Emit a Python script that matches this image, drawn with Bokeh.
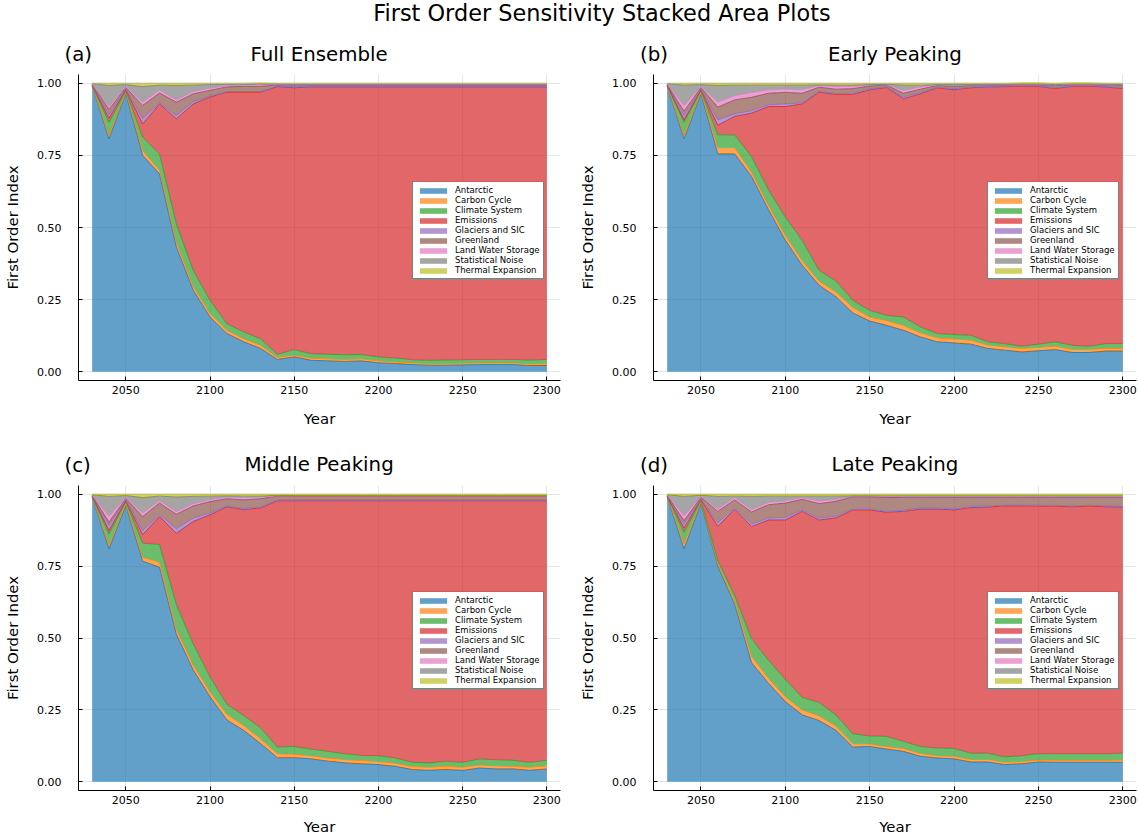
from bokeh.plotting import figure
from bokeh.models import Range1d, FixedTicker, PrintfTickFormatter, ColumnDataSource
from bokeh.layouts import column, row
from bokeh.embed import file_html
from bokeh.resources import INLINE
from bokeh.core.properties import value

main_title = "First Order Sensitivity Stacked Area Plots"
panel_titles = ["Full Ensemble", "Early Peaking", "Middle Peaking", "Late Peaking"]
panel_tags = ["(a)", "(b)", "(c)", "(d)"]
x_label = "Year"
y_label = "First Order Index"

years = [2030, 2040, 2050, 2060, 2070, 2080, 2090, 2100, 2110, 2120, 2130, 2140, 2150, 2160,
         2170, 2180, 2190, 2200, 2210, 2220, 2230, 2240, 2250, 2260, 2270, 2280, 2290, 2300]
x_ticks = [2050, 2100, 2150, 2200, 2250, 2300]
y_ticks = [0.0, 0.25, 0.5, 0.75, 1.0]

components = ["Antarctic", "Carbon Cycle", "Climate System", "Emissions", "Glaciers and SIC",
              "Greenland", "Land Water Storage", "Statistical Noise", "Thermal Expansion"]
keys = ["antarctic", "carbon", "climate", "emissions", "glaciers", "greenland", "landwater", "noise", "thermal"]
colors = ["#1f77b4", "#ff7f0e", "#2ca02c", "#d62728", "#9467bd", "#8c564b", "#e377c2", "#7f7f7f", "#bcbd22"]

# (a) Full Ensemble
a_antarctic = [0.990, 0.807, 0.963, 0.750, 0.686, 0.433, 0.283, 0.190, 0.133, 0.104, 0.081, 0.043, 0.052, 0.040,
               0.038, 0.036, 0.038, 0.031, 0.029, 0.025, 0.023, 0.023, 0.024, 0.025, 0.025, 0.025, 0.022, 0.022]
a_carbon = [0.001, 0.012, 0.005, 0.017, 0.012, 0.017, 0.013, 0.012, 0.011, 0.011, 0.011, 0.007, 0.006, 0.007,
            0.007, 0.007, 0.007, 0.007, 0.006, 0.006, 0.006, 0.006, 0.006, 0.006, 0.006, 0.006, 0.006, 0.006]
a_climate = [0.001, 0.045, 0.006, 0.046, 0.057, 0.063, 0.056, 0.046, 0.023, 0.023, 0.023, 0.011, 0.019, 0.016,
             0.016, 0.016, 0.015, 0.014, 0.013, 0.011, 0.011, 0.012, 0.012, 0.012, 0.012, 0.012, 0.013, 0.015]
a_emissions = [0.001, 0.015, 0.003, 0.046, 0.173, 0.364, 0.576, 0.704, 0.802, 0.831, 0.854, 0.927, 0.907, 0.924,
               0.926, 0.928, 0.927, 0.935, 0.939, 0.945, 0.947, 0.946, 0.945, 0.944, 0.944, 0.944, 0.946, 0.944]
a_glaciers = [0.001, 0.012, 0.003, 0.018, 0.004, 0.011, 0.008, 0.003, 0.002, 0.002, 0.002, 0.002, 0.003, 0.003,
              0.003, 0.003, 0.003, 0.003, 0.003, 0.003, 0.003, 0.003, 0.003, 0.003, 0.003, 0.003, 0.003, 0.003]
a_greenland = [0.001, 0.018, 0.005, 0.046, 0.034, 0.046, 0.027, 0.020, 0.016, 0.018, 0.018, 0.004, 0.006, 0.004,
               0.004, 0.004, 0.004, 0.004, 0.004, 0.004, 0.004, 0.004, 0.004, 0.004, 0.004, 0.004, 0.004, 0.004]
a_landwater = [0.001, 0.010, 0.004, 0.011, 0.010, 0.008, 0.008, 0.008, 0.004, 0.005, 0.006, 0.002, 0.002, 0.001,
               0.001, 0.001, 0.001, 0.001, 0.001, 0.001, 0.001, 0.001, 0.001, 0.001, 0.001, 0.001, 0.001, 0.001]
a_noise = [0.002, 0.073, 0.006, 0.054, 0.017, 0.050, 0.022, 0.012, 0.005, 0.002, 0.002, 0.001, 0.001, 0.001,
           0.001, 0.001, 0.001, 0.001, 0.001, 0.001, 0.001, 0.001, 0.001, 0.001, 0.001, 0.001, 0.001, 0.001]
a_thermal = [0.002, 0.008, 0.005, 0.012, 0.007, 0.008, 0.007, 0.005, 0.004, 0.004, 0.004, 0.003, 0.004, 0.004,
             0.004, 0.004, 0.004, 0.004, 0.004, 0.004, 0.004, 0.004, 0.004, 0.004, 0.004, 0.004, 0.004, 0.004]

# (b) Early Peaking
b_antarctic = [0.990, 0.807, 0.963, 0.755, 0.755, 0.677, 0.562, 0.456, 0.369, 0.300, 0.260, 0.204, 0.176, 0.161,
               0.144, 0.121, 0.104, 0.100, 0.096, 0.081, 0.075, 0.069, 0.073, 0.077, 0.067, 0.067, 0.072, 0.072]
b_carbon = [0.001, 0.012, 0.005, 0.021, 0.021, 0.015, 0.015, 0.017, 0.017, 0.015, 0.017, 0.019, 0.014, 0.017,
            0.017, 0.014, 0.014, 0.014, 0.014, 0.012, 0.012, 0.012, 0.012, 0.012, 0.011, 0.011, 0.009, 0.009]
b_climate = [0.001, 0.046, 0.006, 0.045, 0.045, 0.054, 0.054, 0.063, 0.070, 0.037, 0.038, 0.025, 0.023, 0.018,
             0.029, 0.021, 0.015, 0.015, 0.017, 0.011, 0.011, 0.008, 0.011, 0.015, 0.014, 0.011, 0.017, 0.017]
b_emissions = [0.001, 0.008, 0.003, 0.033, 0.064, 0.150, 0.288, 0.383, 0.472, 0.617, 0.646, 0.713, 0.764, 0.789,
               0.756, 0.807, 0.851, 0.848, 0.857, 0.883, 0.890, 0.900, 0.893, 0.877, 0.897, 0.900, 0.889, 0.883]
b_glaciers = [0.001, 0.015, 0.003, 0.019, 0.009, 0.009, 0.006, 0.009, 0.004, 0.003, 0.003, 0.004, 0.003, 0.002,
              0.006, 0.004, 0.002, 0.004, 0.002, 0.002, 0.002, 0.002, 0.002, 0.003, 0.002, 0.002, 0.002, 0.003]
b_greenland = [0.001, 0.015, 0.005, 0.044, 0.048, 0.046, 0.040, 0.040, 0.033, 0.014, 0.015, 0.016, 0.010, 0.006,
               0.013, 0.012, 0.006, 0.008, 0.006, 0.005, 0.004, 0.004, 0.004, 0.007, 0.004, 0.004, 0.005, 0.008]
b_landwater = [0.001, 0.020, 0.004, 0.017, 0.015, 0.017, 0.012, 0.012, 0.012, 0.006, 0.009, 0.008, 0.004, 0.002,
               0.010, 0.008, 0.002, 0.004, 0.002, 0.001, 0.001, 0.001, 0.001, 0.003, 0.001, 0.001, 0.001, 0.002]
b_noise = [0.002, 0.070, 0.006, 0.058, 0.036, 0.025, 0.016, 0.013, 0.016, 0.002, 0.005, 0.004, 0.001, 0.001,
           0.018, 0.006, 0.001, 0.002, 0.001, 0.001, 0.001, 0.001, 0.001, 0.001, 0.001, 0.001, 0.001, 0.001]
b_thermal = [0.002, 0.007, 0.005, 0.008, 0.007, 0.007, 0.007, 0.007, 0.007, 0.006, 0.007, 0.007, 0.005, 0.004,
             0.007, 0.007, 0.005, 0.005, 0.005, 0.004, 0.004, 0.004, 0.004, 0.005, 0.004, 0.004, 0.004, 0.005]

# (c) Middle Peaking
c_antarctic = [0.990, 0.810, 0.960, 0.767, 0.746, 0.513, 0.389, 0.296, 0.215, 0.179, 0.133, 0.084, 0.084, 0.080,
               0.072, 0.066, 0.063, 0.060, 0.054, 0.043, 0.040, 0.043, 0.040, 0.048, 0.045, 0.045, 0.040, 0.045]
c_carbon = [0.001, 0.012, 0.006, 0.014, 0.018, 0.017, 0.017, 0.017, 0.020, 0.017, 0.017, 0.014, 0.012, 0.011,
            0.011, 0.012, 0.011, 0.011, 0.011, 0.010, 0.011, 0.011, 0.011, 0.011, 0.011, 0.009, 0.011, 0.011]
c_climate = [0.001, 0.040, 0.008, 0.049, 0.061, 0.086, 0.074, 0.052, 0.035, 0.035, 0.038, 0.023, 0.027, 0.023,
             0.023, 0.020, 0.018, 0.020, 0.018, 0.015, 0.015, 0.018, 0.017, 0.021, 0.021, 0.021, 0.017, 0.019]
c_emissions = [0.001, 0.012, 0.003, 0.029, 0.097, 0.248, 0.425, 0.563, 0.686, 0.715, 0.764, 0.856, 0.854, 0.863,
               0.871, 0.879, 0.885, 0.886, 0.894, 0.909, 0.911, 0.905, 0.909, 0.897, 0.900, 0.902, 0.909, 0.902]
c_glaciers = [0.001, 0.017, 0.003, 0.014, 0.006, 0.016, 0.012, 0.006, 0.003, 0.004, 0.004, 0.003, 0.003, 0.003,
              0.003, 0.003, 0.003, 0.003, 0.003, 0.003, 0.003, 0.003, 0.003, 0.003, 0.003, 0.003, 0.003, 0.003]
c_greenland = [0.001, 0.012, 0.005, 0.049, 0.041, 0.050, 0.042, 0.040, 0.025, 0.030, 0.028, 0.013, 0.012, 0.012,
               0.012, 0.012, 0.012, 0.012, 0.012, 0.012, 0.012, 0.012, 0.012, 0.012, 0.012, 0.012, 0.012, 0.012]
c_landwater = [0.001, 0.020, 0.004, 0.012, 0.008, 0.009, 0.008, 0.007, 0.006, 0.008, 0.006, 0.002, 0.002, 0.002,
               0.002, 0.002, 0.002, 0.002, 0.002, 0.002, 0.002, 0.002, 0.002, 0.002, 0.002, 0.002, 0.002, 0.002]
c_noise = [0.002, 0.069, 0.006, 0.054, 0.016, 0.051, 0.025, 0.012, 0.004, 0.005, 0.003, 0.001, 0.001, 0.001,
           0.001, 0.001, 0.001, 0.001, 0.001, 0.001, 0.001, 0.001, 0.001, 0.001, 0.001, 0.001, 0.001, 0.001]
c_thermal = [0.002, 0.008, 0.005, 0.012, 0.007, 0.010, 0.008, 0.007, 0.006, 0.007, 0.007, 0.004, 0.005, 0.005,
             0.005, 0.005, 0.005, 0.005, 0.005, 0.005, 0.005, 0.005, 0.005, 0.005, 0.005, 0.005, 0.005, 0.005]

# (d) Late Peaking
d_antarctic = [0.990, 0.810, 0.968, 0.750, 0.617, 0.414, 0.343, 0.279, 0.233, 0.213, 0.179, 0.121, 0.123, 0.114,
               0.106, 0.089, 0.083, 0.080, 0.069, 0.069, 0.060, 0.063, 0.069, 0.068, 0.068, 0.068, 0.068, 0.068]
d_carbon = [0.001, 0.017, 0.004, 0.008, 0.013, 0.023, 0.017, 0.017, 0.017, 0.017, 0.015, 0.012, 0.009, 0.009,
            0.010, 0.010, 0.008, 0.009, 0.009, 0.009, 0.008, 0.008, 0.007, 0.007, 0.007, 0.007, 0.007, 0.008]
d_climate = [0.001, 0.040, 0.006, 0.012, 0.018, 0.061, 0.063, 0.060, 0.044, 0.046, 0.039, 0.034, 0.028, 0.035,
             0.025, 0.024, 0.027, 0.027, 0.022, 0.022, 0.019, 0.020, 0.022, 0.023, 0.023, 0.023, 0.023, 0.024]
d_emissions = [0.001, 0.015, 0.003, 0.118, 0.300, 0.389, 0.487, 0.554, 0.646, 0.634, 0.684, 0.778, 0.785, 0.779,
               0.799, 0.825, 0.830, 0.829, 0.853, 0.855, 0.872, 0.868, 0.860, 0.860, 0.858, 0.860, 0.858, 0.855]
d_glaciers = [0.001, 0.014, 0.003, 0.012, 0.006, 0.009, 0.007, 0.009, 0.005, 0.007, 0.006, 0.004, 0.004, 0.004,
              0.004, 0.004, 0.004, 0.004, 0.004, 0.004, 0.003, 0.003, 0.003, 0.003, 0.003, 0.003, 0.003, 0.003]
d_greenland = [0.001, 0.012, 0.005, 0.040, 0.026, 0.042, 0.046, 0.050, 0.037, 0.050, 0.052, 0.042, 0.042, 0.047,
               0.045, 0.037, 0.037, 0.040, 0.032, 0.030, 0.027, 0.027, 0.028, 0.028, 0.030, 0.028, 0.030, 0.031]
d_landwater = [0.001, 0.017, 0.003, 0.008, 0.008, 0.008, 0.008, 0.008, 0.006, 0.009, 0.007, 0.002, 0.002, 0.004,
               0.004, 0.004, 0.004, 0.004, 0.004, 0.004, 0.004, 0.004, 0.004, 0.004, 0.004, 0.004, 0.004, 0.004]
d_noise = [0.002, 0.067, 0.004, 0.044, 0.005, 0.046, 0.022, 0.016, 0.005, 0.017, 0.011, 0.001, 0.001, 0.002,
           0.001, 0.001, 0.001, 0.001, 0.001, 0.001, 0.001, 0.001, 0.001, 0.001, 0.001, 0.001, 0.001, 0.001]
d_thermal = [0.002, 0.008, 0.004, 0.008, 0.007, 0.008, 0.007, 0.007, 0.007, 0.007, 0.007, 0.006, 0.006, 0.006,
             0.006, 0.006, 0.006, 0.006, 0.006, 0.006, 0.006, 0.006, 0.006, 0.006, 0.006, 0.006, 0.006, 0.006]

panel_data = [
    [a_antarctic, a_carbon, a_climate, a_emissions, a_glaciers, a_greenland, a_landwater, a_noise, a_thermal],
    [b_antarctic, b_carbon, b_climate, b_emissions, b_glaciers, b_greenland, b_landwater, b_noise, b_thermal],
    [c_antarctic, c_carbon, c_climate, c_emissions, c_glaciers, c_greenland, c_landwater, c_noise, c_thermal],
    [d_antarctic, d_carbon, d_climate, d_emissions, d_glaciers, d_greenland, d_landwater, d_noise, d_thermal],
]

FONT = "DejaVu Sans"
CELL_W = 569

# per panel: (height, min_border_left, right, top, bottom, x-axis label standoff)
geom = [
    (362, 78, 9, 4, 52, 13),
    (362, 84, 2, 4, 52, 13),
    (360, 78, 9, 7, 47, 11),
    (360, 84, 2, 7, 47, 11),
]


def make_panel(i):
    h, bl, br, bt, bb, xls = geom[i]
    data = {"year": years}
    for k, vals in zip(keys, panel_data[i]):
        data[k] = vals
    src = ColumnDataSource(data)

    p = figure(width=CELL_W, height=h, output_backend="svg", toolbar_location=None,
               x_range=Range1d(2021.9, 2308.1), y_range=Range1d(-0.03, 1.03),
               min_border_left=bl, min_border_right=br, min_border_top=bt, min_border_bottom=bb)
    p.outline_line_color = None
    p.background_fill_color = "white"

    p.varea_stack(keys, x="year", color=colors, fill_alpha=0.7, legend_label=components, source=src)
    p.vline_stack(keys, x="year", color=colors, line_width=1, line_alpha=0.85, source=src)

    p.xaxis.ticker = FixedTicker(ticks=x_ticks)
    p.yaxis.ticker = FixedTicker(ticks=y_ticks)
    p.yaxis.formatter = PrintfTickFormatter(format="%.2f")
    p.xaxis.axis_label = x_label
    p.yaxis.axis_label = y_label
    for ax in (p.xaxis, p.yaxis):
        ax.axis_line_color = "black"
        ax.axis_line_width = 1
        ax.major_tick_line_color = "black"
        ax.major_tick_in = 4
        ax.major_tick_out = 0
        ax.minor_tick_line_color = None
        ax.major_label_text_font = FONT
        ax.major_label_text_font_size = "11px"
        ax.major_label_text_color = "black"
        ax.axis_label_text_font = FONT
        ax.axis_label_text_font_size = "14.9px"
        ax.axis_label_text_font_style = "normal"
        ax.axis_label_text_color = "black"
    p.yaxis.major_label_standoff = 17
    p.yaxis.axis_label_standoff = 12
    p.xaxis.major_label_standoff = 5
    p.xaxis.axis_label_standoff = xls

    p.xgrid.ticker = FixedTicker(ticks=x_ticks)
    p.ygrid.ticker = FixedTicker(ticks=y_ticks)
    p.grid.grid_line_color = "black"
    p.grid.grid_line_alpha = 0.1
    p.grid.grid_line_width = 1

    lg = p.legend[0]
    lg.location = (334, 101)
    lg.label_text_font = FONT
    lg.label_text_font_size = "8.5px"
    lg.label_text_color = "black"
    lg.glyph_width = 34
    lg.glyph_height = 7
    lg.label_height = 7
    lg.label_standoff = 5
    lg.spacing = -1
    lg.padding = 3
    lg.border_line_color = "black"
    lg.border_line_width = 1
    lg.background_fill_alpha = 1.0
    return p


def make_header(h, texts):
    f = figure(width=2 * CELL_W, height=h, x_range=Range1d(0, 2 * CELL_W), y_range=Range1d(h, 0),
               output_backend="svg", toolbar_location=None, min_border=0,
               x_axis_type=None, y_axis_type=None)
    f.outline_line_color = None
    f.grid.visible = False
    for (x, y, txt, size, align) in texts:
        f.text(x=[x], y=[y], text=[txt], text_align=align, text_baseline="middle",
               text_font=value(FONT), text_font_size=size, text_color="black")
    return f


header1 = make_header(70, [
    (601.5, 12.2, main_title, "22.4px", "center"),
    (64, 54, panel_tags[0], "19.8px", "left"),
    (318.6, 53.5, panel_titles[0], "19.8px", "center"),
    (639.5, 54, panel_tags[1], "19.8px", "left"),
    (894.4, 53.5, panel_titles[1], "19.8px", "center"),
])
header2 = make_header(46, [
    (64, 32.5, panel_tags[2], "19.8px", "left"),
    (318.6, 32, panel_titles[2], "19.8px", "center"),
    (639.5, 32.5, panel_tags[3], "19.8px", "left"),
    (894.4, 32, panel_titles[3], "19.8px", "center"),
])

panels = [make_panel(i) for i in range(4)]
layout = column(header1, row(panels[0], panels[1]), header2, row(panels[2], panels[3]))

open("out.html", "w").write(file_html(layout, INLINE))
